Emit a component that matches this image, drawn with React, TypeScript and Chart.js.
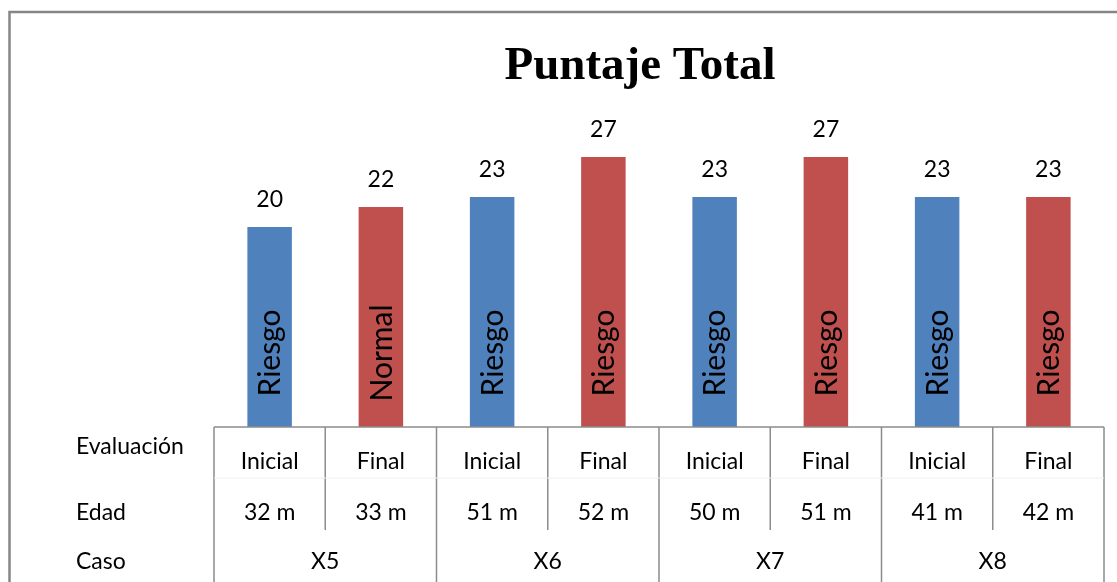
import React, { useEffect, useRef } from "react";
import { Chart, registerables } from "chart.js";

Chart.register(...registerables);

const evaluacion = ["Inicial", "Final", "Inicial", "Final", "Inicial", "Final", "Inicial", "Final"];
const edad = ["32 m", "33 m", "51 m", "52 m", "50 m", "51 m", "41 m", "42 m"];
const casos = ["X5", "X6", "X7", "X8"];
const puntaje = [20, 22, 23, 27, 23, 27, 23, 23];
const estado = ["Riesgo", "Normal", "Riesgo", "Riesgo", "Riesgo", "Riesgo", "Riesgo", "Riesgo"];
const colores = ["#4F81BD", "#C0504D", "#4F81BD", "#C0504D", "#4F81BD", "#C0504D", "#4F81BD", "#C0504D"];
const rowLabels = ["Evaluación", "Edad", "Caso"];

const FONT = "Lato, 'Open Sans', sans-serif";

const tablePlugin = {
  id: "tablePlugin",
  afterDraw(chart: any) {
    const ctx = chart.ctx;
    const area = chart.chartArea;
    const xs = chart.scales.x;
    const n = evaluacion.length;
    const cw = (area.right - area.left) / n;
    const base = area.bottom;
    ctx.save();
    // outer chart border
    ctx.strokeStyle = "#868686";
    ctx.lineWidth = 2.5;
    ctx.beginPath();
    ctx.moveTo(9.5, 600);
    ctx.lineTo(9.5, 12);
    ctx.lineTo(1130, 12);
    ctx.stroke();

    // title
    ctx.fillStyle = "#000";
    ctx.font = "bold 47px 'Liberation Serif', 'Times New Roman', serif";
    ctx.textAlign = "center";
    ctx.textBaseline = "middle";
    ctx.fillText("Puntaje Total", 640, 67);

    // table lines
    ctx.strokeStyle = "#8c8c8c";
    ctx.lineWidth = 1.5;
    ctx.beginPath();
    ctx.moveTo(area.left, base);
    ctx.lineTo(area.right, base);
    for (let i = 0; i <= n; i++) {
      const x = area.left + i * cw;
      ctx.moveTo(x, base);
      ctx.lineTo(x, i % 2 === 0 ? 600 : 530);
    }
    ctx.stroke();
    ctx.strokeStyle = "#f0f0f0";
    ctx.lineWidth = 1;
    ctx.beginPath();
    ctx.moveTo(area.left, 478);
    ctx.lineTo(area.right, 478);
    ctx.stroke();

    // table text
    ctx.fillStyle = "#000";
    ctx.font = "23px " + FONT;
    ctx.textAlign = "center";
    ctx.textBaseline = "middle";
    for (let i = 0; i < n; i++) {
      const x = xs.getPixelForValue(i);
      ctx.fillText(evaluacion[i], x, 462);
      ctx.fillText(edad[i], x, 513);
    }
    for (let j = 0; j < casos.length; j++) {
      const x = area.left + (2 * j + 1) * cw;
      ctx.fillText(casos[j], x, 562);
    }
    ctx.textAlign = "left";
    ctx.fillText(rowLabels[0], 76, 447);
    ctx.fillText(rowLabels[1], 76, 513);
    ctx.fillText(rowLabels[2], 76, 562);

    // value labels and rotated labels
    const meta = chart.getDatasetMeta(0);
    meta.data.forEach((bar: any, i: number) => {
      ctx.fillStyle = "#000";
      ctx.font = "23px " + FONT;
      ctx.textAlign = "center";
      ctx.textBaseline = "middle";
      ctx.fillText(String(puntaje[i]), bar.x, bar.y - 27);
      ctx.save();
      ctx.translate(bar.x, base - 74);
      ctx.rotate(-Math.PI / 2);
      ctx.font = "30px " + FONT;
      ctx.fillText(estado[i], 0, 1);
      ctx.restore();
    });
    ctx.restore();
  },
};

export default function App() {
  const ref = useRef<HTMLCanvasElement>(null);
  useEffect(() => {
    if (!ref.current) return;
    const chart = new Chart(ref.current, {
      type: "bar",
      data: {
        labels: evaluacion,
        datasets: [
          {
            data: puntaje,
            backgroundColor: colores,
            borderWidth: 0,
            categoryPercentage: 0.8,
            barPercentage: 0.5,
          },
        ],
      },
      options: {
        animation: false,
        responsive: false,
        maintainAspectRatio: false,
        layout: { padding: { left: 214, right: 13, top: 127, bottom: 155 } },
        plugins: { legend: { display: false }, tooltip: { enabled: false }, title: { display: false } },
        scales: {
          x: { display: false },
          y: { display: false, min: 0, max: 30 },
        },
      },
      plugins: [tablePlugin],
    });
    return () => chart.destroy();
  }, []);
  return (
    <div style={{ position: "fixed", left: 0, top: 0, width: 1117, height: 582, background: "#fff" }}>
      <canvas ref={ref} width={1117} height={582} style={{ width: 1117, height: 582 }} />
    </div>
  );
}
